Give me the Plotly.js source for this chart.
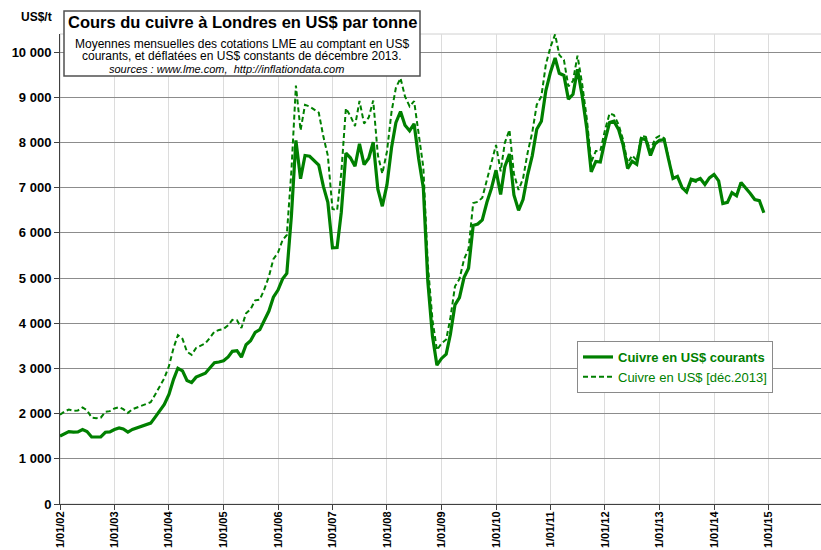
<!DOCTYPE html>
<html>
<head>
<meta charset="utf-8">
<script src="https://cdn.plot.ly/plotly-3.0.1.min.js"></script>
<style>
  html, body { margin: 0; padding: 0; overflow: hidden; background: #fff; }
  #chart { width: 824px; height: 550px; }
</style>
</head>
<body>
<div id="chart"></div>
<script>
// Monthly series, first month = January 2002
const startYear = 2002;

// LME copper, current US$ per tonne (Jan 2002 .. Dec 2014)
const currentUSD = [
  1501,1563,1603,1590,1597,1648,1604,1483,1476,1486,1587,1595,
  1648,1684,1659,1590,1650,1686,1711,1758,1790,1922,2057,2201,
  2423,2759,3004,2947,2734,2686,2807,2846,2895,3010,3125,3143,
  3170,3254,3379,3394,3249,3524,3614,3798,3857,4059,4269,4577,
  4734,4982,5103,6387,8046,7197,7711,7695,7602,7500,7029,6675,
  5670,5676,6452,7766,7661,7475,7970,7510,7652,8005,6965,6588,
  7061,7888,8439,8685,8383,8260,8414,7633,6990,4926,3717,3072,
  3221,3315,3750,4407,4569,5014,5216,6165,6196,6288,6676,6982,
  7386,6848,7463,7745,6838,6499,6735,7284,7709,8292,8470,9147,
  9556,9868,9530,9483,8960,9067,9620,9040,8315,7350,7581,7566,
  8041,8441,8471,8290,7955,7423,7584,7516,8088,8062,7711,7966,
  8047,8061,7645,7202,7250,7000,6907,7186,7159,7203,7071,7215,
  7291,7149,6650,6674,6891,6821,7113,7002,6872,6737,6713,6446
];

// LME copper, constant US$ of December 2013 (Jan 2002 .. Dec 2013)
const constantUSD = [
  1975,2049,2089,2061,2070,2135,2076,1913,1900,1910,2040,2055,
  2114,2143,2099,2016,2096,2139,2168,2219,2252,2421,2598,2783,
  3049,3453,3736,3653,3369,3300,3454,3500,3553,3675,3813,3849,
  3874,3954,4074,4065,3895,4222,4310,4507,4522,4749,5035,5420,
  5563,5843,5952,7387,9260,8266,8831,8795,8732,8661,8130,7708,
  6528,6500,7322,8757,8586,8361,8917,8418,8553,8929,7723,7310,
  7796,8684,9210,9422,9018,8798,8915,8119,7446,5301,4078,3406,
  3555,3641,4109,4816,4979,5418,5645,6657,6686,6778,7192,7535,
  7944,7363,7992,8279,7305,6949,7200,7776,8225,8836,9021,9726,
  10112,10391,9939,9826,9241,9362,9923,9300,8540,7565,7809,7813,
  8268,8641,8606,8397,8067,7539,7714,7603,8145,8122,7806,8086,
  8144,8092,7654,7218,7253,6986,6891,7161,7125,7188,7070,7215
];

const tickYears = [2002,2003,2004,2005,2006,2007,2008,2009,2010,2011,2012,2013,2014,2015,2016];
const tickLabels = ["1/01/02","1/01/03","1/01/04","1/01/05","1/01/06","1/01/07","1/01/08",
                    "1/01/09","1/01/10","1/01/11","1/01/12","1/01/13","1/01/14","1/01/15","1/01/16"];

const seriesNames = ["<b>Cuivre en US$ courants</b>", "Cuivre en US$ [déc.2013]"];

function monthDates(n) {
  const out = [];
  for (let i = 0; i < n; i++) {
    const y = startYear + Math.floor(i / 12);
    const m = (i % 12) + 1;
    out.push(y + "-" + String(m).padStart(2, "0") + "-01");
  }
  return out;
}

const green = "#008000";
const FONT = "Arial, 'Liberation Sans', sans-serif";

const traces = [
  {
    x: monthDates(constantUSD.length), y: constantUSD, name: seriesNames[1],
    type: "scatter", mode: "lines",
    line: { color: green, width: 2, dash: "5px,3px" }
  },
  {
    x: monthDates(currentUSD.length), y: currentUSD, name: seriesNames[0],
    type: "scatter", mode: "lines",
    line: { color: green, width: 3.2 }
  }
];

// pixel -> paper helpers for layout decorations
const L = 60, R = 824, T = 34, B = 504;
const px = x => (x - L) / (R - L);
const py = y => (B - y) / (B - T);

const layout = {
  width: 824, height: 550,
  margin: { l: L, r: 824 - R, t: T, b: 550 - B, pad: 0 },
  paper_bgcolor: "#fff", plot_bgcolor: "#fff",
  separators: ", ",
  font: { family: FONT, color: "#000" },
  showlegend: true,
  legend: {
    x: px(577), y: py(341), xanchor: "left", yanchor: "top",
    bgcolor: "#fff", bordercolor: "#8a8a8a", borderwidth: 1,
    traceorder: "reversed",
    font: { family: FONT, size: 13, color: green },
    tracegroupgap: 0
  },
  xaxis: {
    type: "date",
    range: [tickYears[0] + "-01-01", tickYears[tickYears.length - 1] + "-01-08"],
    tickvals: tickYears.map(y => y + "-01-01"),
    ticktext: tickLabels,
    tickangle: -90,
    tickfont: { family: FONT, size: 11, color: "#000", weight: "bold" },
    ticks: "outside", ticklen: 5, tickcolor: "#404040",
    ticklabelstandoff: -3,
    showline: true, linecolor: "#404040", linewidth: 1,
    showgrid: true, gridcolor: "#dcdcdc", gridwidth: 1,
    zeroline: false, automargin: false, fixedrange: true
  },
  yaxis: {
    range: [0, 10400],
    dtick: 1000, tick0: 0,
    tickformat: ",d",
    tickfont: { family: FONT, size: 13, color: "#000", weight: "bold" },
    ticks: "outside", ticklen: 5, tickcolor: "#404040",
    showline: true, linecolor: "#404040", linewidth: 1,
    showgrid: true, gridcolor: "#8c8c8c", gridwidth: 1,
    zeroline: false, automargin: false, fixedrange: true
  },
  shapes: [
    { type: "rect", xref: "paper", yref: "paper", x0: 0, x1: 1, y0: 0, y1: 1,
      line: { color: "#d0d0d0", width: 1 }, layer: "below" },
    { type: "rect", xref: "paper", yref: "paper",
      x0: px(64), x1: px(420), y0: py(76), y1: py(11),
      fillcolor: "#fff", line: { color: "#505050", width: 1.5 }, layer: "above" }
  ],
  annotations: [
    { xref: "paper", yref: "paper", x: px(36), y: py(17), xanchor: "center", yanchor: "middle",
      text: "<b>US$/t</b>", showarrow: false, font: { family: FONT, size: 12, color: "#000" } },
    { xref: "paper", yref: "paper", x: px(242), y: py(22), xanchor: "center", yanchor: "middle",
      text: "<b>Cours du cuivre à Londres en US$ par tonne</b>", showarrow: false,
      font: { family: FONT, size: 16.5, color: "#000" } },
    { xref: "paper", yref: "paper", x: px(242), y: py(43.5), xanchor: "center", yanchor: "middle",
      text: "Moyennes mensuelles des cotations LME au comptant en US$", showarrow: false,
      font: { family: FONT, size: 12, color: "#000" } },
    { xref: "paper", yref: "paper", x: px(242), y: py(56), xanchor: "center", yanchor: "middle",
      text: "courants, et déflatées en US$ constants de décembre 2013.", showarrow: false,
      font: { family: FONT, size: 12, color: "#000" } },
    { xref: "paper", yref: "paper", x: px(226), y: py(69.5), xanchor: "center", yanchor: "middle",
      text: "<i>sources : www.lme.com,  http://inflationdata.com</i>", showarrow: false,
      font: { family: FONT, size: 11, color: "#000" } }
  ]
};

Plotly.newPlot("chart", traces, layout, { displayModeBar: false, staticPlot: true });
</script>
</body>
</html>
